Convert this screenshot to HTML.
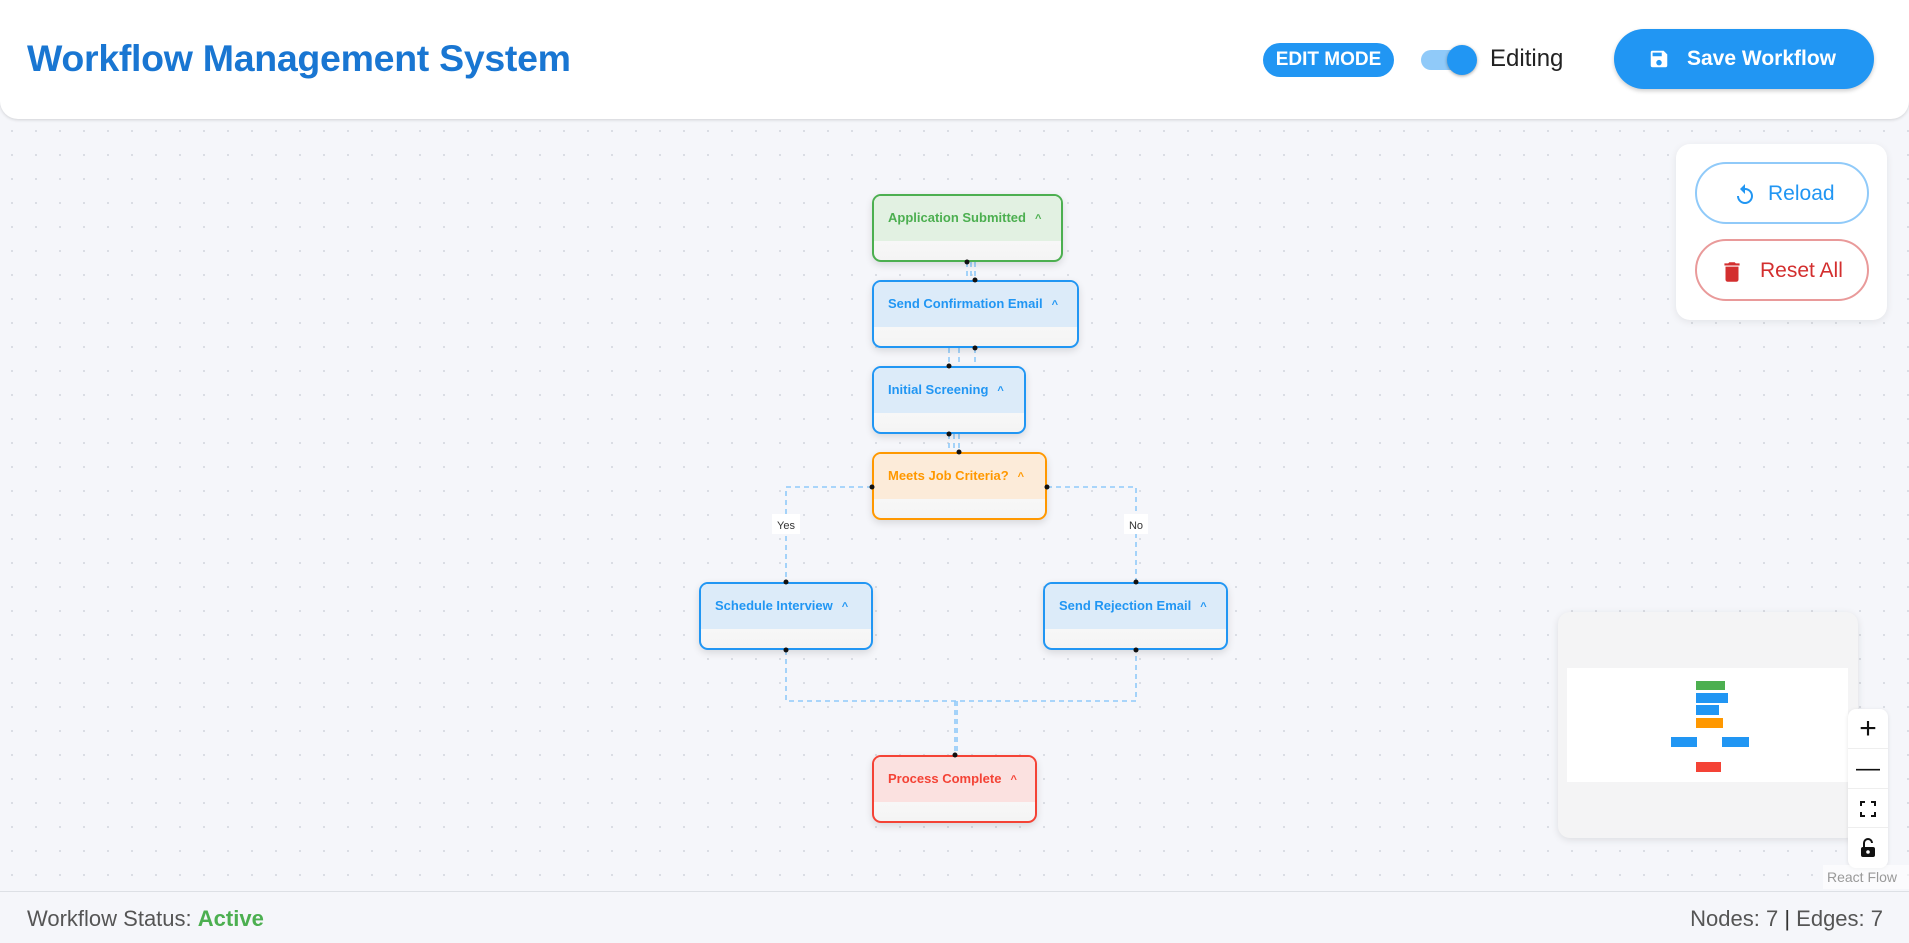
<!DOCTYPE html>
<html><head><meta charset="utf-8"><style>
*{box-sizing:border-box;margin:0;padding:0}
body{width:1909px;height:943px;overflow:hidden;background:#f5f6fa;font-family:"Liberation Sans",sans-serif;position:relative}
.grid{position:absolute;left:0;top:119px;width:1909px;height:772px;background-image:radial-gradient(#d8dbe2 1px,transparent 1.2px);background-size:24px 24px}
.hdr{position:absolute;left:0;top:0;width:1909px;height:119px;background:#fff;border-radius:0 0 18px 18px;box-shadow:0 1px 3px rgba(0,0,0,.15)}
.title{position:absolute;left:27px;top:37px;font-size:37.5px;font-weight:bold;color:#1976d2;letter-spacing:-.3px}
.badge{position:absolute;left:1263px;top:43px;width:131px;height:34px;border-radius:17px;background:#2196f3;color:#fff;font-weight:bold;font-size:19px;line-height:34px;text-align:center}
.tg{position:absolute;left:1421px;top:50px;width:50px;height:20px;border-radius:10px;background:#90caf9}
.knob{position:absolute;left:1447px;top:45px;width:30px;height:30px;border-radius:50%;background:#2196f3;box-shadow:0 1px 3px rgba(0,0,0,.35)}
.editing{position:absolute;left:1490px;top:45px;font-size:24px;color:#222}
.save{position:absolute;left:1614px;top:29px;width:260px;height:60px;border-radius:30px;background:#2196f3;color:#fff;font-size:21px;font-weight:bold;box-shadow:0 2px 4px rgba(0,0,0,.2)}
.save span{position:absolute;left:73px;top:18px}
.panel{position:absolute;left:1676px;top:144px;width:211px;height:176px;background:#fff;border-radius:14px;box-shadow:0 2px 8px rgba(0,0,0,.08)}
.pb{position:absolute;left:19px;width:174px;height:62px;border-radius:31px;background:#fff;font-size:21px}
.node{position:absolute;border:2px solid;border-radius:9px;background:linear-gradient(#fff,#f4f4f4);box-shadow:0 3px 8px rgba(0,0,0,.12);overflow:hidden}
.node .h{height:45px;font-size:13px;font-weight:bold;padding-left:14px;line-height:44px;white-space:nowrap}
.node .h i{font-style:normal;margin-left:9px;font-size:11px}
.g{border-color:#4caf50}.g .h{background:#e2f1e2;color:#4caf50}
.b{border-color:#2196f3}.b .h{background:#dcebf9;color:#2196f3}
.o{border-color:#ff9800}.o .h{background:#fcebd9;color:#ff9800}
.r{border-color:#f44336}.r .h{background:#fbe1e0;color:#f44336}
.foot{position:absolute;left:0;top:891px;width:1909px;height:52px;border-top:1px solid #dde0e5;background:#f5f6fa;font-size:22px;color:#555}
.mm{position:absolute;left:1558px;top:612px;width:300px;height:226px;background:#f4f4f5;border-radius:12px;box-shadow:0 2px 8px rgba(0,0,0,.1)}
.ctr{position:absolute;left:1848px;top:709px;width:40px;height:159px;background:#fff;border-radius:8px;box-shadow:0 1px 4px rgba(0,0,0,.1)}
.ctr div{height:39.75px;border-bottom:1px solid #eee;text-align:center;line-height:40px;font-size:24px;color:#111;position:relative}
</style></head><body>
<div class="grid"></div>
<div class="hdr"></div>
<div class="title">Workflow Management System</div>
<div class="badge">EDIT MODE</div>
<div class="tg"></div><div class="knob"></div>
<div class="editing">Editing</div>
<div class="save"><svg style="position:absolute;left:34px;top:19px" width="22" height="22" viewBox="0 0 24 24"><path fill="#fff" d="M17 3H5a2 2 0 0 0-2 2v14a2 2 0 0 0 2 2h14a2 2 0 0 0 2-2V7l-4-4zm-5 16a3 3 0 1 1 0-6 3 3 0 0 1 0 6zm3-10H5V5h10v4z"/></svg><span>Save Workflow</span></div>

<svg style="position:absolute;left:0;top:0" width="1909" height="943">
<g fill="none" stroke="#90caf9" stroke-width="1.6" stroke-dasharray="5 4">
<path d="M967 262V280M971 262V280M975 262V280"/>
<path d="M949 348V366M959 348V366M975 348V366"/>
<path d="M949 434V452M954 434V452M959 434V452"/>
<path d="M872 487H786V582"/>
<path d="M1047 487H1136V582"/>
<path d="M786 650V701H1136V650"/>
<path d="M955 701V755M957 701V755"/>
</g>
<rect x="772" y="514" width="28" height="20" fill="#fff"/>
<text x="786" y="529" font-size="11" text-anchor="middle" fill="#333" font-family="Liberation Sans">Yes</text>
<rect x="1124" y="514" width="24" height="20" fill="#fff"/>
<text x="1136" y="529" font-size="11" text-anchor="middle" fill="#333" font-family="Liberation Sans">No</text>
</svg>

<div class="node g" style="left:872px;top:194px;width:191px;height:68px"><div class="h">Application Submitted<i>^</i></div></div>
<div class="node b" style="left:872px;top:280px;width:207px;height:68px"><div class="h">Send Confirmation Email<i>^</i></div></div>
<div class="node b" style="left:872px;top:366px;width:154px;height:68px"><div class="h">Initial Screening<i>^</i></div></div>
<div class="node o" style="left:872px;top:452px;width:175px;height:68px"><div class="h">Meets Job Criteria?<i>^</i></div></div>
<div class="node b" style="left:699px;top:582px;width:174px;height:68px"><div class="h">Schedule Interview<i>^</i></div></div>
<div class="node b" style="left:1043px;top:582px;width:185px;height:68px"><div class="h">Send Rejection Email<i>^</i></div></div>
<div class="node r" style="left:872px;top:755px;width:165px;height:68px"><div class="h">Process Complete<i>^</i></div></div>

<svg style="position:absolute;left:0;top:0" width="1909" height="943">
<g fill="#111">
<circle cx="967" cy="262" r="2.5"/><circle cx="975" cy="280" r="2.5"/>
<circle cx="975" cy="348" r="2.5"/><circle cx="949" cy="366" r="2.5"/>
<circle cx="949" cy="434" r="2.5"/><circle cx="959" cy="452" r="2.5"/>
<circle cx="872" cy="487" r="2.5"/><circle cx="1047" cy="487" r="2.5"/>
<circle cx="786" cy="582" r="2.5"/><circle cx="1136" cy="582" r="2.5"/>
<circle cx="786" cy="650" r="2.5"/><circle cx="1136" cy="650" r="2.5"/>
<circle cx="955" cy="755" r="2.5"/>
</g></svg>

<div class="panel">
<div class="pb" style="top:18px;border:2px solid #90caf9;color:#2196f3"><svg style="position:absolute;left:36px;top:19px" width="24" height="24" viewBox="0 0 24 24"><path fill="#2196f3" d="M12 5V1L7 6l5 5V7c3.3 0 6 2.7 6 6s-2.7 6-6 6-6-2.7-6-6H4c0 4.4 3.6 8 8 8s8-3.6 8-8-3.6-8-8-8z"/></svg><span style="position:absolute;left:71px;top:18px">Reload</span></div>
<div class="pb" style="top:95px;border:2px solid #e99a9a;color:#d32f2f"><svg style="position:absolute;left:22px;top:18px" width="26" height="26" viewBox="0 0 24 24"><path fill="#d32f2f" d="M6 19c0 1.1.9 2 2 2h8a2 2 0 0 0 2-2V7H6v12zM19 4h-3.5l-1-1h-5l-1 1H5v2h14V4z"/></svg><span style="position:absolute;left:63px;top:18px">Reset All</span></div>
</div>

<div class="mm"></div>
<div style="position:absolute;left:1567px;top:668px;width:281px;height:114px;background:#fff"></div>
<div style="position:absolute;left:1696px;top:681px;width:29px;height:9px;background:#4caf50"></div>
<div style="position:absolute;left:1696px;top:693px;width:32px;height:10px;background:#2196f3"></div>
<div style="position:absolute;left:1696px;top:705px;width:23px;height:10px;background:#2196f3"></div>
<div style="position:absolute;left:1696px;top:718px;width:27px;height:10px;background:#ff9800"></div>
<div style="position:absolute;left:1671px;top:737px;width:26px;height:10px;background:#2196f3"></div>
<div style="position:absolute;left:1722px;top:737px;width:27px;height:10px;background:#2196f3"></div>
<div style="position:absolute;left:1696px;top:762px;width:25px;height:10px;background:#f44336"></div>
<div class="ctr"><div style="font-size:30px">+</div><div>—</div><div><svg style="position:absolute;left:12px;top:12px" width="16" height="16" viewBox="0 0 16 16" fill="none" stroke="#111" stroke-width="2"><path d="M1 5V1h4M11 1h4v4M15 11v4h-4M5 15H1v-4"/></svg></div><div style="border:none"><svg style="position:absolute;left:12px;top:10px" width="16" height="20" viewBox="0 0 16 20"><path d="M4 9V5a4 4 0 0 1 8 0" fill="none" stroke="#111" stroke-width="2"/><rect x="1" y="9" width="14" height="10" rx="2" fill="#111"/><circle cx="8" cy="14" r="1.8" fill="#fff"/></svg></div></div>
<div style="position:absolute;left:1823px;top:865px;width:86px;height:24px;background:rgba(255,255,255,.6);font-size:14px;color:#999;line-height:24px;padding-left:4px">React Flow</div>

<div class="foot">
<span style="position:absolute;left:27px;top:14px">Workflow Status: <b style="color:#4caf50">Active</b></span>
<span style="position:absolute;right:26px;top:14px">Nodes: 7 <span style="color:#333">|</span> Edges: 7</span>
</div>
</body></html>
